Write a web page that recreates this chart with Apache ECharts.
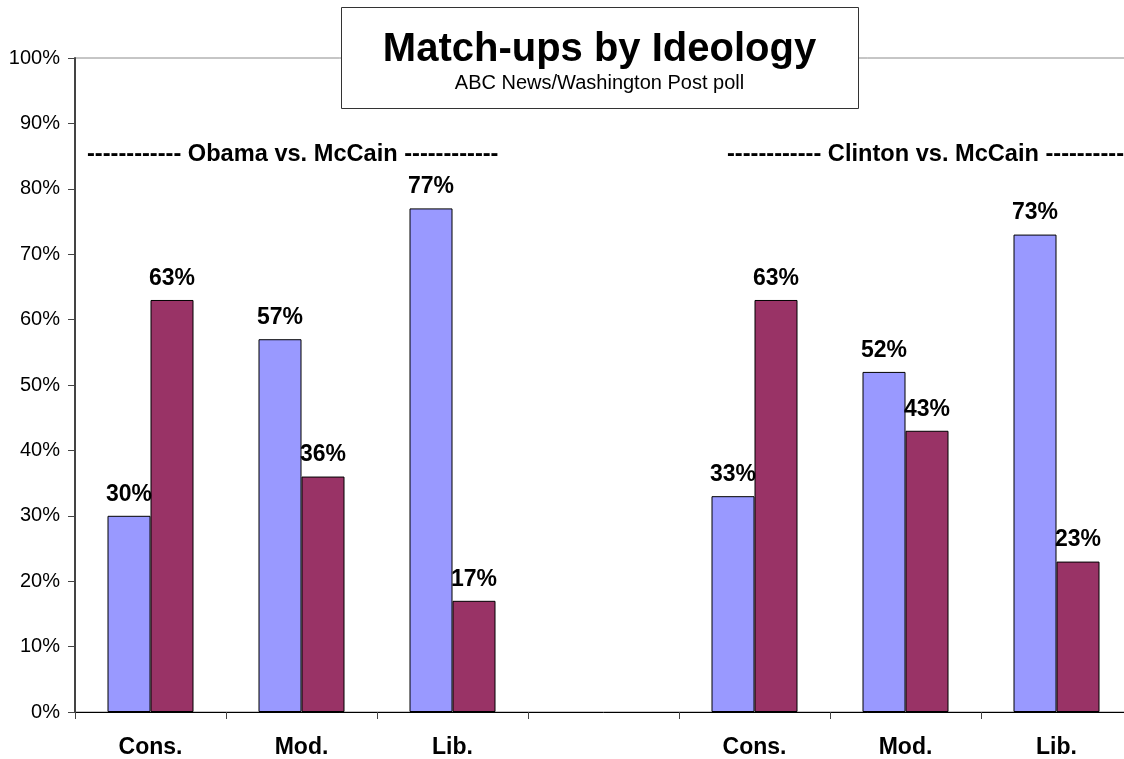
<!DOCTYPE html>
<html>
<head>
<meta charset="utf-8">
<script src="https://cdn.jsdelivr.net/npm/echarts@6/dist/echarts.min.js"></script>
<style>
  html, body { margin: 0; padding: 0; background: #fff; overflow: hidden; width: 1124px; height: 759px; }
  #chart { width: 1133px; height: 759px; }
</style>
</head>
<body>
<div id="chart"></div>
<script>
const categories = ['Cons.', 'Mod.', 'Lib.', '', 'Cons.', 'Mod.', 'Lib.'];
const democratValues = [30, 57, 77, null, 33, 52, 73];
const mccainValues = [63, 36, 17, null, 63, 43, 23];
const yTicks = [0, 10, 20, 30, 40, 50, 60, 70, 80, 90, 100];
const titleText = 'Match-ups by Ideology';
const subtitleText = 'ABC News/Washington Post poll';
const leftHeader = '------------ Obama vs. McCain ------------';
const rightHeader = '------------ Clinton vs. McCain ------------';

const FONT = "'Liberation Sans', Arial, sans-serif";
const chart = echarts.init(document.getElementById('chart'), null, { renderer: 'canvas' });

const barLabel = {
  show: true,
  position: 'top',
  distance: 10,
  fontFamily: FONT,
  fontSize: 23,
  fontWeight: 'bold',
  color: '#000',
  formatter: p => (p.value == null ? '' : p.value + '%')
};

chart.setOption({
  backgroundColor: '#fff',
  animation: false,
  grid: {
    left: 75, top: 58, right: 1, bottom: 46,
    show: true, borderColor: '#8c8c8c', borderWidth: 1, backgroundColor: 'transparent'
  },
  xAxis: {
    type: 'category',
    data: categories,
    axisLine: { lineStyle: { color: '#000', width: 1 } },
    axisTick: { show: true, length: 7, alignWithLabel: false, lineStyle: { color: '#444' } },
    axisLabel: { fontFamily: FONT, fontSize: 23, fontWeight: 'bold', color: '#000', margin: 24, interval: 0 },
    splitLine: { show: false }
  },
  yAxis: {
    type: 'value',
    min: yTicks[0], max: yTicks[yTicks.length - 1], interval: 10,
    axisLine: { show: true, lineStyle: { color: '#444', width: 2 } },
    axisTick: { show: true, length: 7, lineStyle: { color: '#444' } },
    axisLabel: { fontFamily: FONT, fontSize: 20, color: '#000', margin: 15, formatter: '{value}%' },
    splitLine: { show: false }
  },
  series: [
    {
      type: 'bar', name: 'Democrat', data: democratValues,
      barWidth: 43, barGap: '0%',
      itemStyle: { color: '#9999FF', borderColor: '#000', borderWidth: 1 },
      label: barLabel
    },
    {
      type: 'bar', name: 'McCain', data: mccainValues,
      barWidth: 43, barGap: '0%',
      itemStyle: { color: '#993366', borderColor: '#000', borderWidth: 1 },
      label: barLabel
    }
  ],
  graphic: [
    {
      type: 'rect', z: 100,
      shape: { x: 341.5, y: 7.5, width: 517, height: 101 },
      style: { fill: '#fff', stroke: '#333', lineWidth: 1 }
    },
    {
      type: 'text', z: 101, x: 599.5, y: 50,
      style: { text: titleText, font: "bold 40px " + FONT, fill: '#000', align: 'center', verticalAlign: 'middle' }
    },
    {
      type: 'text', z: 101, x: 599.5, y: 83,
      style: { text: subtitleText, font: "20px " + FONT, fill: '#000', align: 'center', verticalAlign: 'middle' }
    },
    {
      type: 'text', z: 101, x: 87, y: 154,
      style: { text: leftHeader, font: "bold 23.6px " + FONT, fill: '#000', align: 'left', verticalAlign: 'middle' }
    },
    {
      type: 'text', z: 101, x: 727, y: 154,
      style: { text: rightHeader, font: "bold 23.6px " + FONT, fill: '#000', align: 'left', verticalAlign: 'middle' }
    }
  ]
});
</script>
</body>
</html>
